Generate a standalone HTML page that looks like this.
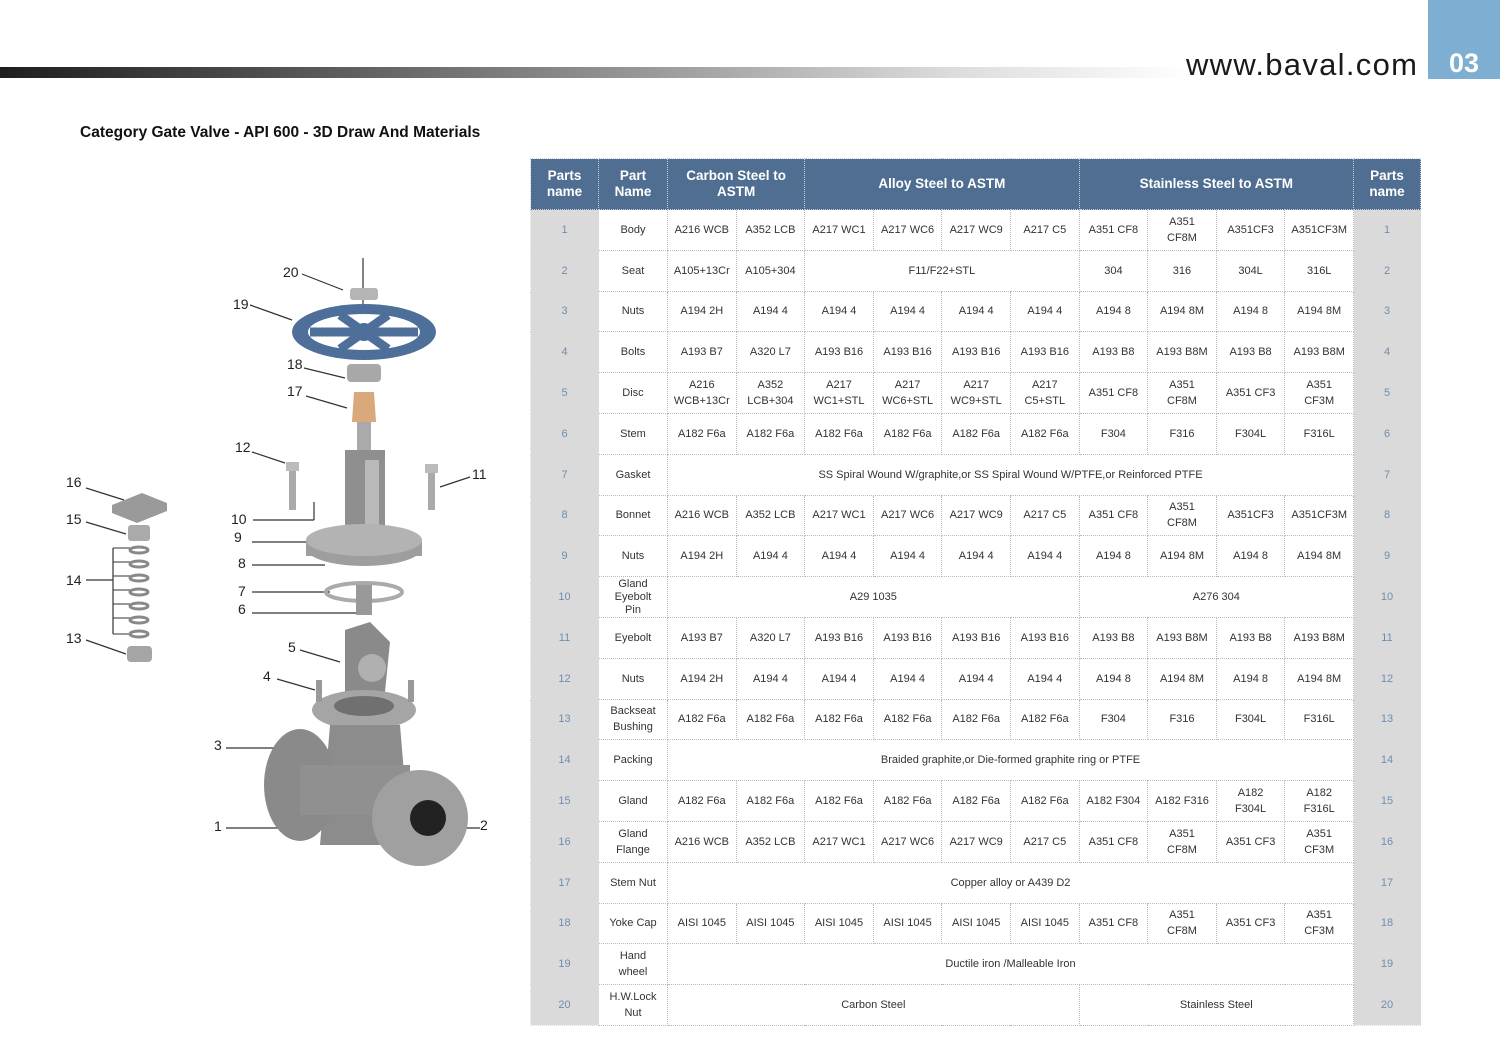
<!DOCTYPE html>
<html><head><meta charset="utf-8">
<style>
html,body{margin:0;padding:0;background:#fff;}
body{width:1500px;height:1061px;position:relative;overflow:hidden;font-family:"Liberation Sans","DejaVu Sans",sans-serif;}
.bar{position:absolute;left:0;top:67px;width:1190px;height:11px;background:linear-gradient(to right,#1e1e1e 0%,#555 25%,#9a9a9a 55%,#dcdcdc 80%,#fff 100%);}
.url{position:absolute;left:1186px;top:47px;font-size:31px;color:#1a1a1a;letter-spacing:1.3px;}
.tab{position:absolute;left:1428px;top:0;width:72px;height:79px;background:#7eaed1;color:#fff;font-size:27px;font-weight:bold;text-align:center;line-height:126px;}
.title{position:absolute;left:80px;top:124px;font-size:15.5px;font-weight:bold;color:#111;}
table{position:absolute;left:530px;top:158px;border-collapse:collapse;table-layout:fixed;width:890px;}
td{font-size:11px;color:#333;text-align:center;height:39.8px;padding:0;border:1px dotted #bbb;line-height:16px;}
tr.h td{background:#4f6e91;color:#fff;font-weight:bold;font-size:13.5px;height:50px;border:1px dotted #ccd;}
td.n{background:#dadada;color:#6f8eac;border-color:#dadada;}
</style></head><body>
<div class="bar"></div>
<div class="url">www.baval.com</div>
<div class="tab">03</div>
<div class="title">Category Gate Valve - API 600 - 3D Draw And Materials</div>

<svg style="position:absolute;left:0;top:0" width="520" height="1061" font-family="Liberation Sans, sans-serif" font-size="14" fill="#222">
<g stroke="#333" stroke-width="1.2" fill="none">
<line x1="363" y1="258" x2="363" y2="330"/>
<line x1="302" y1="274" x2="343" y2="290"/>
<line x1="250" y1="305" x2="292" y2="320"/>
<line x1="304" y1="368" x2="345" y2="378"/>
<line x1="306" y1="396" x2="347" y2="408"/>
<line x1="252" y1="452" x2="285" y2="463"/>
<line x1="470" y1="477" x2="440" y2="487"/>
<line x1="253" y1="520" x2="314" y2="520"/><line x1="314" y1="520" x2="314" y2="502"/>
<line x1="252" y1="542" x2="312" y2="542"/>
<line x1="252" y1="565" x2="325" y2="565"/>
<line x1="252" y1="592" x2="330" y2="592"/>
<line x1="252" y1="613" x2="360" y2="613"/>
<line x1="300" y1="650" x2="340" y2="662"/>
<line x1="277" y1="679" x2="315" y2="690"/>
<line x1="226" y1="748" x2="318" y2="748"/>
<line x1="226" y1="828" x2="278" y2="828"/>
<line x1="438" y1="828" x2="480" y2="828"/>
<line x1="86" y1="488" x2="124" y2="500"/>
<line x1="86" y1="522" x2="126" y2="534"/>
<line x1="86" y1="580" x2="113" y2="580"/>
<line x1="113" y1="548" x2="113" y2="634"/>
<line x1="86" y1="640" x2="126" y2="654"/>
</g>
<g stroke="#333" stroke-width="1">
<line x1="113" y1="548" x2="130" y2="548"/><line x1="113" y1="562" x2="130" y2="562"/><line x1="113" y1="576" x2="130" y2="576"/><line x1="113" y1="590" x2="130" y2="590"/><line x1="113" y1="604" x2="130" y2="604"/><line x1="113" y1="618" x2="130" y2="618"/><line x1="113" y1="634" x2="130" y2="634"/>
</g>
<text x="283" y="277">20</text><text x="233" y="309">19</text><text x="287" y="369">18</text><text x="287" y="396">17</text>
<text x="235" y="452">12</text><text x="472" y="479">11</text><text x="231" y="524">10</text><text x="234" y="542">9</text>
<text x="238" y="568">8</text><text x="238" y="596">7</text><text x="238" y="614">6</text><text x="288" y="652">5</text>
<text x="263" y="681">4</text><text x="214" y="750">3</text><text x="214" y="831">1</text><text x="480" y="830">2</text>
<text x="66" y="487">16</text><text x="66" y="524">15</text><text x="66" y="585">14</text><text x="66" y="643">13</text>
<path d="M112 505 l30 -12 l25 10 l0 8 l-30 12 l-25 -10z" fill="#9a9a9a"/>
<rect x="128" y="525" width="22" height="16" rx="3" fill="#aaa"/>
<g fill="none" stroke="#888" stroke-width="3">
<ellipse cx="139" cy="550" rx="9" ry="3"/><ellipse cx="139" cy="564" rx="9" ry="3"/><ellipse cx="139" cy="578" rx="9" ry="3"/><ellipse cx="139" cy="592" rx="9" ry="3"/><ellipse cx="139" cy="606" rx="9" ry="3"/><ellipse cx="139" cy="620" rx="9" ry="3"/><ellipse cx="139" cy="634" rx="9" ry="3"/>
</g>
<rect x="127" y="646" width="25" height="16" rx="4" fill="#a5a5a5"/>
<rect x="350" y="288" width="28" height="12" rx="3" fill="#b5b5b5"/>
<ellipse cx="364" cy="332" rx="72" ry="28" fill="#4d6f9a"/>
<ellipse cx="364" cy="332" rx="56" ry="18" fill="#fff"/>
<g stroke="#4d6f9a" stroke-width="9"><line x1="310" y1="332" x2="418" y2="332"/><line x1="340" y1="315" x2="388" y2="349"/><line x1="388" y1="315" x2="340" y2="349"/></g>
<circle cx="364" cy="332" r="9" fill="#4d6f9a"/>
<rect x="347" y="364" width="34" height="18" rx="4" fill="#a8a8a8"/>
<path d="M354 392 h20 l2 30 h-24z" fill="#d9a97c"/>
<rect x="357" y="422" width="14" height="30" fill="#aaa"/>
<rect x="345" y="450" width="40" height="80" fill="#8f8f8f"/>
<rect x="365" y="460" width="14" height="70" fill="#b9b9b9"/>
<ellipse cx="364" cy="548" rx="58" ry="18" fill="#9e9e9e"/>
<rect x="306" y="540" width="116" height="16" fill="#9e9e9e"/>
<ellipse cx="364" cy="540" rx="58" ry="16" fill="#b3b3b3"/>
<rect x="289" y="470" width="7" height="40" fill="#aaa"/><rect x="286" y="462" width="13" height="9" fill="#bbb"/>
<rect x="428" y="470" width="7" height="40" fill="#aaa"/><rect x="425" y="464" width="13" height="9" fill="#bbb"/>
<ellipse cx="364" cy="592" rx="38" ry="9" fill="none" stroke="#aaa" stroke-width="4"/>
<rect x="356" y="585" width="16" height="30" fill="#999"/>
<path d="M345 630 l25 -8 l20 20 l-5 50 l-40 0 z" fill="#8a8a8a"/>
<circle cx="372" cy="668" r="14" fill="#b0b0b0"/>
<ellipse cx="364" cy="710" rx="52" ry="20" fill="#a5a5a5"/>
<ellipse cx="364" cy="706" rx="30" ry="10" fill="#707070"/>
<rect x="316" y="680" width="6" height="22" fill="#999"/><rect x="408" y="680" width="6" height="22" fill="#999"/>
<path d="M330 725 h70 l10 120 l-90 0z" fill="#8c8c8c"/>
<ellipse cx="300" cy="785" rx="36" ry="56" fill="#8a8a8a"/>
<rect x="300" y="765" width="110" height="50" fill="#909090"/>
<circle cx="420" cy="818" r="48" fill="#a0a0a0"/>
<circle cx="428" cy="818" r="18" fill="#222"/>
</svg>

<table>
<colgroup><col style="width:68px"><col style="width:69px"><col style="width:68.6px"><col style="width:68.6px"><col style="width:68.6px"><col style="width:68.6px"><col style="width:68.6px"><col style="width:68.6px"><col style="width:68.6px"><col style="width:68.6px"><col style="width:68.6px"><col style="width:68.6px"><col style="width:67px"></colgroup>
<tr class="h"><td>Parts<br>name</td><td>Part<br>Name</td><td colspan="2">Carbon Steel to<br>ASTM</td><td colspan="4">Alloy Steel to ASTM</td><td colspan="4">Stainless Steel to ASTM</td><td>Parts<br>name</td></tr>
<tr><td class="n">1</td><td>Body</td><td>A216 WCB</td><td>A352 LCB</td><td>A217 WC1</td><td>A217 WC6</td><td>A217 WC9</td><td>A217 C5</td><td>A351 CF8</td><td>A351<br>CF8M</td><td>A351CF3</td><td>A351CF3M</td><td class="n">1</td></tr>
<tr><td class="n">2</td><td>Seat</td><td>A105+13Cr</td><td>A105+304</td><td colspan="4">F11/F22+STL</td><td>304</td><td>316</td><td>304L</td><td>316L</td><td class="n">2</td></tr>
<tr><td class="n">3</td><td>Nuts</td><td>A194 2H</td><td>A194 4</td><td>A194 4</td><td>A194 4</td><td>A194 4</td><td>A194 4</td><td>A194 8</td><td>A194 8M</td><td>A194 8</td><td>A194 8M</td><td class="n">3</td></tr>
<tr><td class="n">4</td><td>Bolts</td><td>A193 B7</td><td>A320 L7</td><td>A193 B16</td><td>A193 B16</td><td>A193 B16</td><td>A193 B16</td><td>A193 B8</td><td>A193 B8M</td><td>A193 B8</td><td>A193 B8M</td><td class="n">4</td></tr>
<tr><td class="n">5</td><td>Disc</td><td>A216<br>WCB+13Cr</td><td>A352<br>LCB+304</td><td>A217<br>WC1+STL</td><td>A217<br>WC6+STL</td><td>A217<br>WC9+STL</td><td>A217<br>C5+STL</td><td>A351 CF8</td><td>A351<br>CF8M</td><td>A351 CF3</td><td>A351<br>CF3M</td><td class="n">5</td></tr>
<tr><td class="n">6</td><td>Stem</td><td>A182 F6a</td><td>A182 F6a</td><td>A182 F6a</td><td>A182 F6a</td><td>A182 F6a</td><td>A182 F6a</td><td>F304</td><td>F316</td><td>F304L</td><td>F316L</td><td class="n">6</td></tr>
<tr><td class="n">7</td><td>Gasket</td><td colspan="10">SS Spiral Wound W/graphite,or SS Spiral Wound W/PTFE,or Reinforced PTFE</td><td class="n">7</td></tr>
<tr><td class="n">8</td><td>Bonnet</td><td>A216 WCB</td><td>A352 LCB</td><td>A217 WC1</td><td>A217 WC6</td><td>A217 WC9</td><td>A217 C5</td><td>A351 CF8</td><td>A351<br>CF8M</td><td>A351CF3</td><td>A351CF3M</td><td class="n">8</td></tr>
<tr><td class="n">9</td><td>Nuts</td><td>A194 2H</td><td>A194 4</td><td>A194 4</td><td>A194 4</td><td>A194 4</td><td>A194 4</td><td>A194 8</td><td>A194 8M</td><td>A194 8</td><td>A194 8M</td><td class="n">9</td></tr>
<tr><td class="n">10</td><td style="line-height:13px">Gland<br>Eyebolt<br>Pin</td><td colspan="6">A29 1035</td><td colspan="4">A276 304</td><td class="n">10</td></tr>
<tr><td class="n">11</td><td>Eyebolt</td><td>A193 B7</td><td>A320 L7</td><td>A193 B16</td><td>A193 B16</td><td>A193 B16</td><td>A193 B16</td><td>A193 B8</td><td>A193 B8M</td><td>A193 B8</td><td>A193 B8M</td><td class="n">11</td></tr>
<tr><td class="n">12</td><td>Nuts</td><td>A194 2H</td><td>A194 4</td><td>A194 4</td><td>A194 4</td><td>A194 4</td><td>A194 4</td><td>A194 8</td><td>A194 8M</td><td>A194 8</td><td>A194 8M</td><td class="n">12</td></tr>
<tr><td class="n">13</td><td>Backseat<br>Bushing</td><td>A182 F6a</td><td>A182 F6a</td><td>A182 F6a</td><td>A182 F6a</td><td>A182 F6a</td><td>A182 F6a</td><td>F304</td><td>F316</td><td>F304L</td><td>F316L</td><td class="n">13</td></tr>
<tr><td class="n">14</td><td>Packing</td><td colspan="10">Braided graphite,or Die-formed graphite ring or PTFE</td><td class="n">14</td></tr>
<tr><td class="n">15</td><td>Gland</td><td>A182 F6a</td><td>A182 F6a</td><td>A182 F6a</td><td>A182 F6a</td><td>A182 F6a</td><td>A182 F6a</td><td>A182 F304</td><td>A182 F316</td><td>A182<br>F304L</td><td>A182<br>F316L</td><td class="n">15</td></tr>
<tr><td class="n">16</td><td>Gland<br>Flange</td><td>A216 WCB</td><td>A352 LCB</td><td>A217 WC1</td><td>A217 WC6</td><td>A217 WC9</td><td>A217 C5</td><td>A351 CF8</td><td>A351<br>CF8M</td><td>A351 CF3</td><td>A351<br>CF3M</td><td class="n">16</td></tr>
<tr><td class="n">17</td><td>Stem Nut</td><td colspan="10">Copper alloy or A439 D2</td><td class="n">17</td></tr>
<tr><td class="n">18</td><td>Yoke Cap</td><td>AISI 1045</td><td>AISI 1045</td><td>AISI 1045</td><td>AISI 1045</td><td>AISI 1045</td><td>AISI 1045</td><td>A351 CF8</td><td>A351<br>CF8M</td><td>A351 CF3</td><td>A351<br>CF3M</td><td class="n">18</td></tr>
<tr><td class="n">19</td><td>Hand<br>wheel</td><td colspan="10">Ductile iron /Malleable Iron</td><td class="n">19</td></tr>
<tr><td class="n">20</td><td>H.W.Lock<br>Nut</td><td colspan="6">Carbon Steel</td><td colspan="4">Stainless Steel</td><td class="n">20</td></tr>
</table>
</body></html>
